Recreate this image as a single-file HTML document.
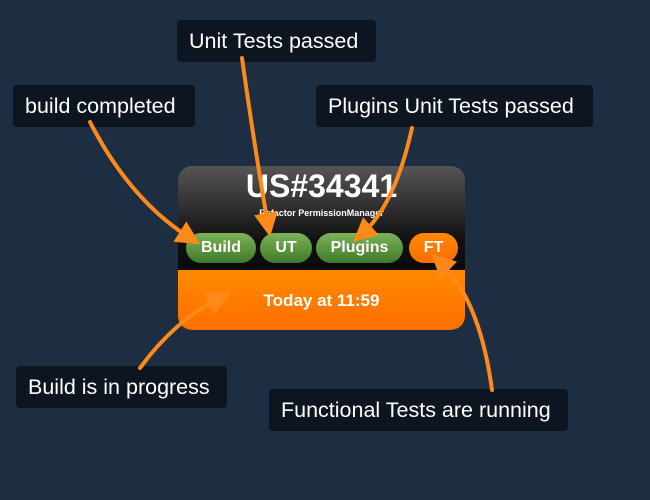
<!DOCTYPE html>
<html><head><style>
body{margin:0;width:650px;height:500px;background:#1d2d42;position:relative;overflow:hidden;font-family:"Liberation Sans",sans-serif}
.lbl{position:absolute;background:#0d1520;color:#fff;font-size:21.5px;line-height:42px;border-radius:4px;padding:0 12px;box-sizing:border-box;height:42px;white-space:nowrap}
.card{position:absolute;left:178px;top:166px;width:287px;height:164px;border-radius:14px;overflow:hidden;background:linear-gradient(#555,#111 45%,#000)}
.bot{position:absolute;left:0;top:104px;width:100%;height:60px;background:linear-gradient(#ff8a00,#ff6f00);color:#fff;font-weight:bold;font-size:17px;text-align:center;line-height:62px}
.b{position:absolute;top:67px;height:30px;border-radius:15px;color:#fff;font-weight:bold;font-size:16px;text-align:center;line-height:30px;background:linear-gradient(#7cb35a,#3f7a28)}
</style></head><body>
<div class="card">
<div style="position:absolute;top:2px;width:100%;text-align:center;color:#fff;font-weight:bold;font-size:32px">US#34341</div>
<div style="position:absolute;top:42px;width:100%;text-align:center;color:#fff;font-weight:bold;font-size:9px">Refactor PermissionManager</div>
<div class="b" style="left:8px;width:70px">Build</div>
<div class="b" style="left:82px;width:52px">UT</div>
<div class="b" style="left:138px;width:87px">Plugins</div>
<div class="b" style="left:231px;width:49px;background:linear-gradient(#ff8a00,#ff6a00)">FT</div>
<div class="bot">Today at 11:59</div>
</div>
<div class="lbl" style="left:177px;top:20px;width:199px">Unit Tests passed</div>
<div class="lbl" style="left:13px;top:85px;width:182px">build completed</div>
<div class="lbl" style="left:316px;top:85px;width:277px">Plugins Unit Tests passed</div>
<div class="lbl" style="left:16px;top:366px;width:211px">Build is in progress</div>
<div class="lbl" style="left:269px;top:389px;width:299px">Functional Tests are running</div>
<svg width="650" height="500" style="position:absolute;left:0;top:0">
<defs><marker id="a" markerWidth="6" markerHeight="6" refX="3" refY="3" orient="auto" markerUnits="strokeWidth"><path d="M0,0 L6,3 L0,6z" fill="#ff8a1a"/></marker></defs>
<g stroke="#ff8a1a" stroke-width="4" fill="none" marker-end="url(#a)" stroke-linecap="round">
<path d="M90,122 Q130,200 190,238"/>
<path d="M242,58 Q255,150 268,225"/>
<path d="M412,128 Q395,205 362,234"/>
<path d="M140,368 Q175,320 220,298"/>
<path d="M492,390 Q480,300 440,262"/>
</g></svg>
</body></html>
